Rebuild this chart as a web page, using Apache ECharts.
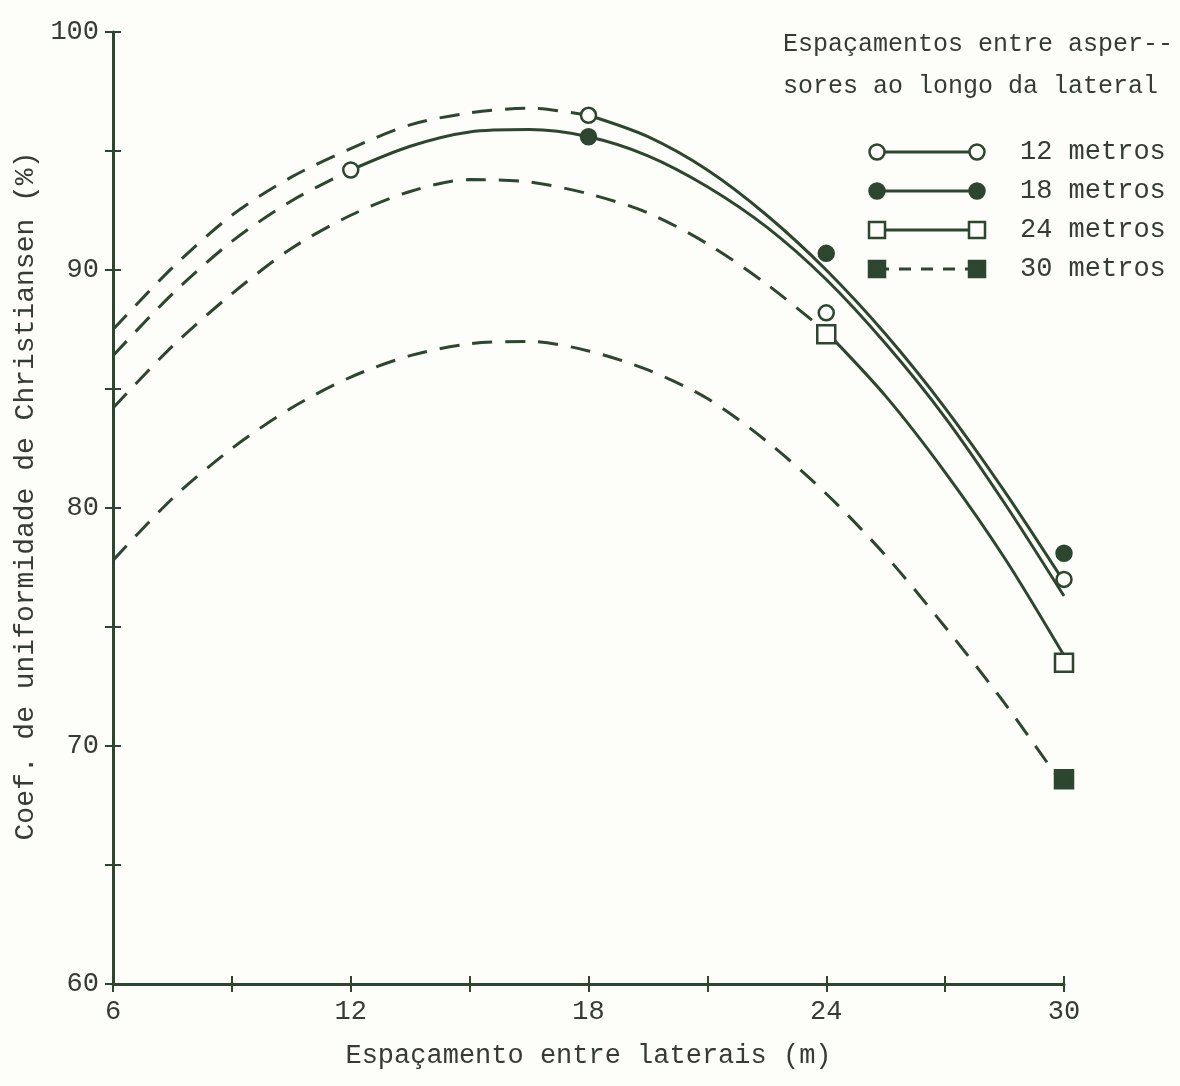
<!DOCTYPE html>
<html>
<head>
<meta charset="utf-8">
<script src="https://cdn.jsdelivr.net/npm/echarts@6/dist/echarts.min.js"></script>
<style>
  html, body { margin: 0; padding: 0; background: #fdfdf9; }
  #grafico { width: 1180px; height: 1086px; }
</style>
</head>
<body>
<div id="grafico"></div>
<script>
// Espaçamento entre laterais (m) onde as curvas ajustadas foram lidas
const espacamentos = [6, 7.5, 9, 10.5, 12, 13.5, 15, 16.5, 18, 19.5, 21, 22.5, 24, 25.5, 27, 28.5, 30];

// Curvas ajustadas do CUC (%) para cada espaçamento entre aspersores
const curva12 = [87.5, 90.1, 92.3, 93.9, 95.1, 96.1, 96.6, 96.8, 96.5, 95.6, 94.2, 92.3, 90.0, 87.3, 84.2, 80.7, 76.9];
const curva18 = [86.4, 89.0, 91.2, 92.9, 94.2, 95.2, 95.8, 95.9, 95.6, 94.8, 93.5, 91.8, 89.6, 86.9, 83.8, 80.2, 76.3];
const curva24 = [84.2, 86.8, 89.0, 90.9, 92.3, 93.3, 93.8, 93.7, 93.2, 92.4, 91.1, 89.4, 87.4, 84.7, 81.5, 77.9, 73.8];
const curva30 = [77.8, 80.4, 82.5, 84.2, 85.5, 86.4, 86.9, 87.0, 86.6, 85.8, 84.6, 82.8, 80.6, 78.0, 75.0, 71.8, 68.3];

// A partir deste espaçamento a curva passa de extrapolada (tracejada) a observada (contínua)
const inicioObservado12 = 18;
const inicioObservado18 = 12;
const inicioObservado24 = 24;
const inicioObservado30 = 31;

// Valores observados
const pontos12 = [[12, 94.2], [18, 96.5], [24, 88.2], [30, 77.0]];
const pontos18 = [[18, 95.6], [24, 90.7], [30, 78.1]];
const pontos24 = [[24, 87.3], [30, 73.5]];
const pontos30 = [[30, 68.6]];

const rotulosX = [6, 12, 18, 24, 30];
const rotulosY = [60, 70, 80, 90, 100];

const legendaTitulo = ['Espaçamentos entre asper--', 'sores ao longo da lateral'];
const legendaNomes = ['12 metros', '18 metros', '24 metros', '30 metros'];

const VERDE = '#2c4630';
const FUNDO = '#fdfdf9';
const TEXTO = '#353b35';
const FONTE = '"Liberation Mono", "DejaVu Sans Mono", monospace';
const TRACO = [20, 13];

function pares(valores, de, ate) {
  const out = [];
  espacamentos.forEach((x, i) => {
    if (x >= de && x <= ate) out.push([x, valores[i]]);
  });
  return out;
}

function curva(valores, inicio) {
  const s = [];
  s.push({
    type: 'line', data: pares(valores, 6, inicio), smooth: 0.3, symbol: 'none',
    lineStyle: { color: VERDE, width: 3, type: TRACO }, silent: true, z: 2
  });
  if (inicio <= 30) {
    s.push({
      type: 'line', data: pares(valores, inicio, 30), smooth: 0.3, symbol: 'none',
      lineStyle: { color: VERDE, width: 3, type: 'solid' }, silent: true, z: 2
    });
  }
  return s;
}

function marcadores(dados, simbolo, cheio, tamanho) {
  return {
    type: 'scatter', data: dados, symbol: simbolo, symbolSize: tamanho, z: 5,
    itemStyle: { color: cheio ? VERDE : FUNDO, borderColor: VERDE, borderWidth: 2.5, opacity: 1 }
  };
}

// Legenda desenhada à mão: amostra de linha com marcador nas duas pontas
const legendaEstilos = [
  { simbolo: 'circle', cheio: false, tracejado: false },
  { simbolo: 'circle', cheio: true, tracejado: false },
  { simbolo: 'rect', cheio: false, tracejado: false },
  { simbolo: 'rect', cheio: true, tracejado: true }
];

const grafLegenda = [];
legendaTitulo.forEach((t, i) => {
  grafLegenda.push({
    type: 'text', left: 783, top: 32 + i * 42,
    style: { text: t, font: '25px ' + FONTE, fill: TEXTO }
  });
});
legendaNomes.forEach((nome, i) => {
  const y = 152 + i * 39;
  const e = legendaEstilos[i];
  const x1 = 877, x2 = 977;
  grafLegenda.push({
    type: 'line', shape: { x1: x1, y1: y, x2: x2, y2: y },
    style: { stroke: VERDE, lineWidth: 3, lineDash: e.tracejado ? [12, 10] : null }
  });
  [x1, x2].forEach(cx => {
    if (e.simbolo === 'circle') {
      grafLegenda.push({
        type: 'circle', shape: { cx: cx, cy: y, r: 7.5 },
        style: { fill: e.cheio ? VERDE : FUNDO, stroke: VERDE, lineWidth: 2.5 }
      });
    } else {
      grafLegenda.push({
        type: 'rect', shape: { x: cx - 8, y: y - 8, width: 16, height: 16 },
        style: { fill: e.cheio ? VERDE : FUNDO, stroke: VERDE, lineWidth: 2.5 }
      });
    }
  });
  grafLegenda.push({
    type: 'text', x: 1020, y: y,
    style: { text: nome, font: '27px ' + FONTE, fill: TEXTO, verticalAlign: 'middle' }
  });
});

// Cada eixo aparece duas vezes (marcas para fora e para dentro) para que os tracinhos cruzem a linha
const eixoX = (interno) => ({
  type: 'value', min: 6, max: 30, interval: 3, position: 'bottom',
  axisLine: { show: !interno, onZero: false, lineStyle: { color: VERDE, width: 3 } },
  axisTick: { show: true, inside: interno, length: 8, lineStyle: { color: VERDE, width: 2 } },
  axisLabel: {
    show: !interno, margin: 14, color: TEXTO, fontFamily: FONTE, fontSize: 27,
    formatter: v => (rotulosX.includes(v) ? String(v) : '')
  },
  splitLine: { show: false },
  name: interno ? '' : 'Espaçamento entre laterais (m)',
  nameLocation: 'middle', nameGap: 58,
  nameTextStyle: { color: TEXTO, fontFamily: FONTE, fontSize: 27 }
});

const eixoY = (interno) => ({
  type: 'value', min: 60, max: 100, interval: 5, position: 'left',
  axisLine: { show: !interno, onZero: false, lineStyle: { color: VERDE, width: 3 } },
  axisTick: { show: true, inside: interno, length: 8, lineStyle: { color: VERDE, width: 2 } },
  axisLabel: {
    show: !interno, margin: 14, color: TEXTO, fontFamily: FONTE, fontSize: 27,
    formatter: v => (rotulosY.includes(v) ? String(v) : '')
  },
  splitLine: { show: false },
  name: interno ? '' : 'Coef. de uniformidade de Christiansen (%)',
  nameLocation: 'middle', nameGap: 62, nameRotate: 90,
  nameTextStyle: { color: TEXTO, fontFamily: FONTE, fontSize: 28, padding: [0, 0, 0, 24] }
});

const grafico = echarts.init(document.getElementById('grafico'), null, { renderer: 'canvas' });
grafico.setOption({
  backgroundColor: FUNDO,
  animation: false,
  grid: { left: 113, right: 116, top: 32, bottom: 102, containLabel: false },
  xAxis: [eixoX(false), eixoX(true)],
  yAxis: [eixoY(false), eixoY(true)],
  graphic: grafLegenda,
  series: [
    ...curva(curva12, inicioObservado12),
    ...curva(curva18, inicioObservado18),
    ...curva(curva24, inicioObservado24),
    ...curva(curva30, inicioObservado30),
    marcadores(pontos12, 'circle', false, 15),
    marcadores(pontos18, 'circle', true, 15),
    marcadores(pontos24, 'rect', false, 18),
    marcadores(pontos30, 'rect', true, 18)
  ]
});
</script>
</body>
</html>
